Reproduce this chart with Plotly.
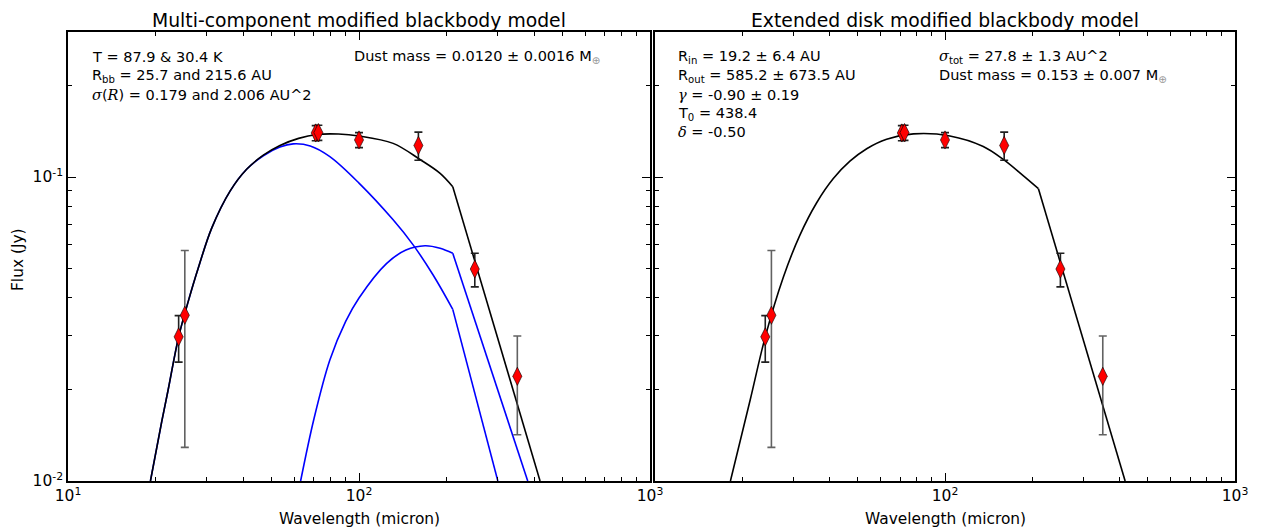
import plotly.graph_objects as go

# ---------------- data ----------------
obs_wavelength = [24.0, 25.2, 71.0, 72.5, 100.0, 160.0, 250.0, 350.0]
obs_flux = [0.0298, 0.0351, 0.1396, 0.1400, 0.1324, 0.1270, 0.0498, 0.0221]
obs_err = [0.0052, 0.0222, 0.0080, 0.0080, 0.0075, 0.0135, 0.0063, 0.0079]
obs_group = ["dark", "grey", "dark", "dark", "dark", "dark", "dark", "grey"]

# multi-component model (left panel)
total_wl = [19.2, 21.0, 22.1, 24.0, 26.0, 28.0, 31.2, 36.1, 41.1, 46.9, 53.5, 62.0, 71.6, 85.0, 100.0, 131.0, 162.0, 190.0, 210.0, 419.0]
total_flux = [0.0100, 0.0157, 0.0200, 0.0298, 0.0395, 0.0500, 0.0680, 0.0900, 0.1060, 0.1180, 0.1270, 0.1340, 0.1380, 0.1385, 0.1365, 0.1290, 0.1142, 0.1028, 0.0929, 0.0100]

warm_wl = [19.2, 21.0, 22.1, 24.0, 26.0, 28.0, 31.2, 36.1, 41.1, 46.9, 53.5, 59.4, 68.0, 79.4, 100.0, 131.0, 153.7, 180.0, 210.0, 300.0]
warm_flux = [0.0100, 0.0157, 0.0200, 0.0298, 0.0395, 0.0500, 0.0680, 0.0900, 0.1060, 0.1175, 0.1255, 0.1285, 0.1265, 0.1167, 0.0955, 0.0723, 0.0597, 0.0475, 0.0367, 0.0100]

cold_wl = [63.0, 70.0, 79.4, 90.0, 100.0, 124.5, 145.0, 168.6, 190.0, 210.0, 380.0]
cold_flux = [0.0100, 0.0160, 0.0250, 0.0335, 0.0400, 0.0520, 0.0575, 0.0594, 0.0583, 0.0561, 0.0100]

# extended disk model (right panel)
disk_wl = [18.2, 21.3, 24.0, 27.7, 31.6, 36.1, 41.2, 47.0, 53.7, 62.9, 77.8, 104.0, 135.5, 158.9, 186.0, 210.0, 418.0]
disk_flux = [0.0100, 0.0185, 0.0298, 0.0468, 0.0644, 0.0823, 0.0988, 0.1127, 0.1239, 0.1331, 0.1386, 0.1365, 0.1260, 0.1142, 0.1010, 0.0915, 0.0100]

# wavelength of the last model grid point before the long straight segment
model_break_wl = 210.0

x_major = [10, 100, 1000]
x_major_left = ["10<sup>1</sup>", "10<sup>2</sup>", "10<sup>3</sup>"]
x_major_right = ["", "10<sup>2</sup>", "10<sup>3</sup>"]
x_minor = [20, 30, 40, 50, 60, 70, 80, 90, 200, 300, 400, 500, 600, 700, 800, 900]
y_major = [0.01, 0.1]
y_major_text = ["10<sup>-2</sup>", "10<sup>-1</sup>"]
y_minor = [0.02, 0.03, 0.04, 0.05, 0.06, 0.07, 0.08, 0.09, 0.2, 0.3]

W, H = 1262, 529
FONT = "DejaVu Sans"

fig = go.Figure()


def add_model(wl, flux, color, xa, ya):
    k = wl.index(model_break_wl)
    # smooth part of the model
    fig.add_trace(go.Scatter(x=wl[:k + 1], y=flux[:k + 1], mode="lines",
                             line=dict(color=color, width=1.6, shape="spline", smoothing=1.0),
                             xaxis=xa, yaxis=ya, showlegend=False, hoverinfo="x+y"))
    # coarse straight segment beyond the break
    fig.add_trace(go.Scatter(x=wl[k:], y=flux[k:], mode="lines",
                             line=dict(color=color, width=1.6),
                             xaxis=xa, yaxis=ya, showlegend=False, hoverinfo="x+y"))


def add_obs(xa, ya):
    for grp, col in (("dark", "rgba(20,20,20,0.95)"), ("grey", "rgba(70,70,70,0.85)")):
        idx = [i for i, g in enumerate(obs_group) if g == grp]
        fig.add_trace(go.Scatter(
            x=[obs_wavelength[i] for i in idx],
            y=[obs_flux[i] for i in idx],
            mode="markers",
            marker=dict(symbol="diamond-tall", size=13, color="red",
                        line=dict(color="black", width=0.6)),
            error_y=dict(type="data", array=[obs_err[i] for i in idx],
                         color=col, thickness=1.6, width=4),
            xaxis=xa, yaxis=ya, showlegend=False, hoverinfo="x+y"))


# left panel
add_model(warm_wl, warm_flux, "#0000ff", "x", "y")
add_model(cold_wl, cold_flux, "#0000ff", "x", "y")
add_model(total_wl, total_flux, "black", "x", "y")
add_obs("x", "y")

# right panel
add_model(disk_wl, disk_flux, "black", "x2", "y2")
add_obs("x2", "y2")

L0, L1 = 68 / W, 650 / W
R0, R1 = 655 / W, 1235 / W
YB, YT = 1 - 481 / H, 1 - 32 / H
ytop = -2 + 449 / 304.0


def xaxis_cfg(dom, texts, anchor):
    return dict(type="log", range=[1, 3], domain=dom, anchor=anchor,
                tickmode="array", tickvals=x_major, ticktext=texts,
                ticks="inside", ticklen=8, tickwidth=1, tickcolor="black",
                minor=dict(tickmode="array", tickvals=x_minor, ticks="inside",
                           ticklen=4, tickwidth=1, tickcolor="black", showgrid=False),
                showline=True, linecolor="black", linewidth=1.5, mirror="ticks",
                showgrid=False, zeroline=False, automargin=False,
                tickfont=dict(family=FONT, size=15.5, color="black"))


def yaxis_cfg(dom, anchor, show):
    return dict(type="log", range=[-2, ytop], domain=dom, anchor=anchor,
                tickmode="array", tickvals=y_major,
                ticktext=y_major_text if show else ["", ""],
                ticks="inside", ticklen=8, tickwidth=1, tickcolor="black",
                minor=dict(tickmode="array", tickvals=y_minor, ticks="inside",
                           ticklen=4, tickwidth=1, tickcolor="black", showgrid=False),
                showline=True, linecolor="black", linewidth=1.5, mirror="ticks",
                showgrid=False, zeroline=False, automargin=False,
                tickfont=dict(family=FONT, size=15.5, color="black"))


fig.update_layout(
    width=W, height=H,
    margin=dict(l=0, r=0, t=0, b=0),
    paper_bgcolor="white", plot_bgcolor="white",
    font=dict(family=FONT, color="black"),
    xaxis=xaxis_cfg([L0, L1], x_major_left, "y"),
    yaxis=yaxis_cfg([YB, YT], "x", True),
    xaxis2=xaxis_cfg([R0, R1], x_major_right, "y2"),
    yaxis2=yaxis_cfg([YB, YT], "x2", False),
)


def ann(text, px, py, size=14.5, xanchor="left", angle=0):
    fig.add_annotation(text=text, x=px / W, y=1 - py / H, xref="paper", yref="paper",
                       xanchor=xanchor, yanchor="middle", showarrow=False,
                       textangle=angle, font=dict(family=FONT, size=size, color="black"))


SER = '<span style="font-family:DejaVu Serif"><i>%s</i></span>'
EARTH = '<sub><span style="color:#999999">⊕</span></sub>'

ann("Multi-component modified blackbody model", 359, 20, size=18.8, xanchor="center")
ann("Extended disk modified blackbody model", 945, 20, size=18.8, xanchor="center")
ann("Wavelength (micron)", 359, 519, size=15.4, xanchor="center")
ann("Wavelength (micron)", 945, 519, size=15.4, xanchor="center")
ann("Flux (Jy)", 18, 260, size=15.4, xanchor="center", angle=-90)

ann("T = 87.9 &amp; 30.4 K", 90, 57)
ann("R<sub>bb</sub> = 25.7 and 215.6 AU", 90, 76)
ann(SER % "σ" + "(" + SER % "R" + ") = 0.179 and 2.006 AU^2", 90, 95)
ann("Dust mass = 0.0120 ± 0.0016 M" + EARTH, 352, 57)

ann("R<sub>in</sub> = 19.2 ± 6.4 AU", 676, 57)
ann("R<sub>out</sub> = 585.2 ± 673.5 AU", 676, 76)
ann(SER % "γ" + " = -0.90 ± 0.19", 676, 95)
ann("T<sub>0</sub> = 438.4", 676, 114)
ann(SER % "δ" + " = -0.50", 676, 132)
ann(SER % "σ" + "<sub>tot</sub> = 27.8 ± 1.3 AU^2", 937, 57)
ann("Dust mass = 0.153 ± 0.007 M" + EARTH, 937, 76)

fig.write_html("out.html")
